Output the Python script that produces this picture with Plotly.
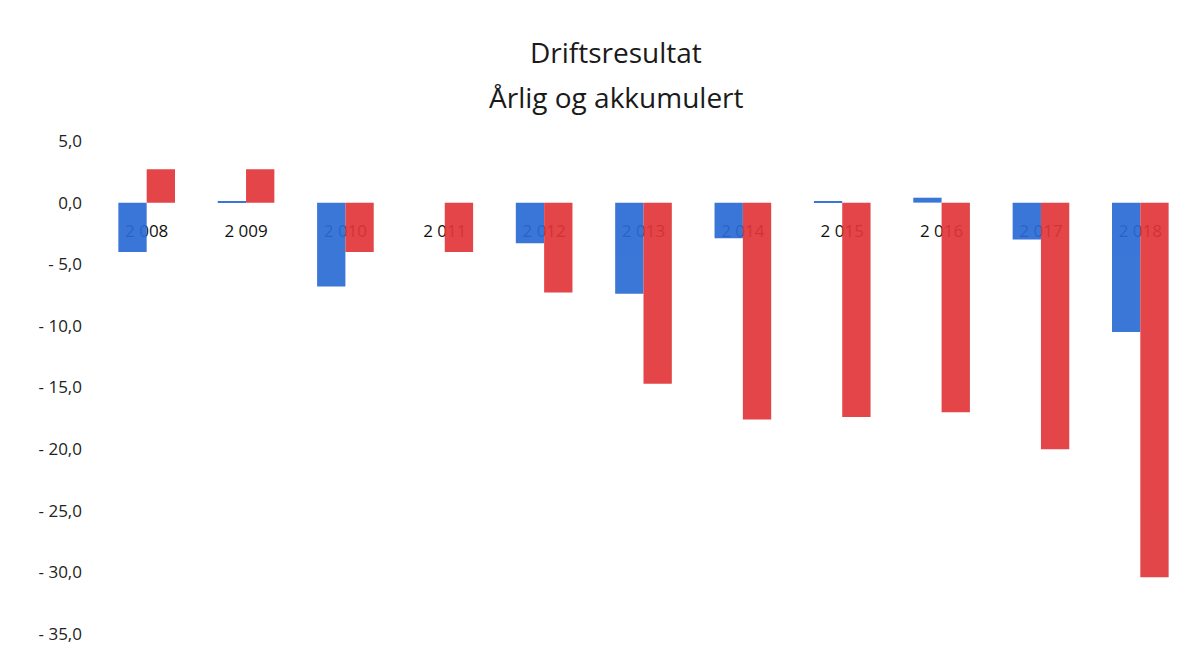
import plotly.graph_objects as go

# Driftsresultat per år (mill. kr), årlig og akkumulert
years = ["2 008", "2 009", "2 010", "2 011", "2 012", "2 013",
         "2 014", "2 015", "2 016", "2 017", "2 018"]
annual = [-4.0, 0.1, -6.8, 0.0, -3.3, -7.4, -2.9, 0.1, 0.4, -3.0, -10.5]
accumulated = [2.7, 2.7, -4.0, -4.0, -7.3, -14.7, -17.6, -17.4, -17.0, -20.0, -30.4]

y_tickvals = [5, 0, -5, -10, -15, -20, -25, -30, -35]
y_ticktext = ["5,0", "0,0", "- 5,0", "- 10,0", "- 15,0", "- 20,0",
              "- 25,0", "- 30,0", "- 35,0"]

title_lines = ["Driftsresultat", "Årlig og akkumulert"]

y_min, y_max = -35, 5
blue = "#2a6bd4"
red = "#e13639"

fig = go.Figure()
fig.add_trace(go.Bar(x=years, y=annual, name="Årlig",
                     marker=dict(color=blue, line=dict(width=0)), opacity=0.92))
fig.add_trace(go.Bar(x=years, y=accumulated, name="Akkumulert",
                     marker=dict(color=red, line=dict(width=0)), opacity=0.92))

fig.update_layout(
    width=1203, height=659,
    paper_bgcolor="white", plot_bgcolor="white",
    margin=dict(l=97, r=13, t=141, b=25),
    barmode="group", bargap=0.43, bargroupgap=0,
    showlegend=False,
    font=dict(family="Open Sans, Lato, sans-serif", color="#222222"),
)

# Two-line chart title
for text, ypos in zip(title_lines, [1.180, 1.089]):
    fig.add_annotation(
        text=text, xref="paper", yref="paper", x=0.475, y=ypos,
        xanchor="center", yanchor="middle", showarrow=False,
        font=dict(size=28, color="#1a1a1a", family="Open Sans, sans-serif"),
    )

# Category labels sit along the zero line, behind the bars
zero_pos = (0 - y_min) / (y_max - y_min)
fig.update_xaxes(
    type="category",
    anchor="free", position=zero_pos,
    showline=False, showgrid=False, zeroline=False,
    ticks="", ticklabelstandoff=16,
    tickfont=dict(size=17, color="#111111"),
    layer="below traces",
)
fig.update_yaxes(
    range=[y_min, y_max],
    tickvals=y_tickvals, ticktext=y_ticktext,
    showline=False, showgrid=False, zeroline=False,
    ticks="", ticklabelstandoff=14,
    tickfont=dict(size=17, color="#222222"),
)

fig.write_html("out.html")
